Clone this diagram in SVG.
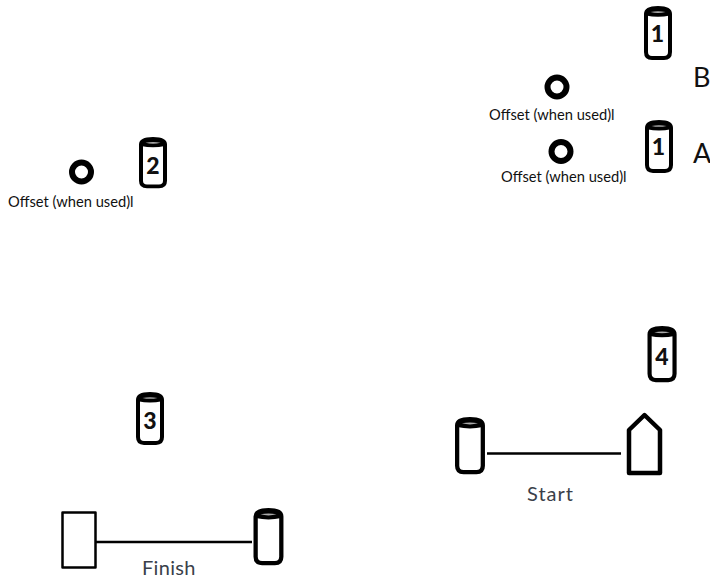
<svg xmlns="http://www.w3.org/2000/svg" xmlns:xlink="http://www.w3.org/1999/xlink" width="710" height="579" viewBox="0 0 710 579">
<style>
text{font-family:Lato,"Liberation Sans",sans-serif;fill:#111}
.o{font-size:14.7px}
.big{font-size:27px}
.lab{font-size:20px;letter-spacing:1px;fill:#3a3f4a}
.fin{letter-spacing:.3px}
.num{font-size:23px;font-weight:900;text-anchor:middle}
.ring{fill:#fff;stroke:#000;stroke-width:6}
.line{stroke:#000;stroke-width:2.5;fill:none}
.shape{fill:#fff;stroke:#000;stroke-linejoin:round}
</style>
<defs>
<g id="buoy">
<path d="M2 8Q2 2 14 2Q26 2 26 8V46Q26 52 20 52H8Q2 52 2 46Z" fill="#fff" stroke="#000" stroke-width="4"/>
<path d="M2 9.500Q14 12 26 9.500V5Q14 1 2 5Z" fill="#000"/>
<path d="M6.500 6Q14 4.500 21.500 6Q14 8 6.500 6Z" fill="#aaa"/>
</g>
</defs>
<g id="connectors">
<path class="line" d="M487 453.500H621"/>
<path class="line" d="M96 542H252"/>
</g>
<g id="mark-1b"><use href="#buoy" transform="translate(644 6)"/><text class="num" x="657.500" y="42">1</text></g>
<g id="mark-1a"><use href="#buoy" transform="translate(645 120) scale(1 .98)"/><text class="num" x="658.500" y="155">1</text></g>
<g id="mark-2"><use href="#buoy" transform="translate(139 137) scale(1 .95)"/><text class="num" x="153" y="174">2</text></g>
<g id="mark-3"><use href="#buoy" transform="translate(136 392) scale(1 .98)"/><text class="num" x="150" y="429">3</text></g>
<g id="mark-4"><use href="#buoy" transform="translate(647.500 326) scale(1.04 1.04)"/><text class="num" x="662" y="365">4</text></g>
<g id="start-pin"><use href="#buoy" transform="translate(455 417) scale(1.07 1.06)"/></g>
<g id="finish-pin"><use href="#buoy" transform="translate(253.500 508) scale(1.07 1.06)"/></g>
<g id="start-boat"><path class="shape" stroke-width="4.500" d="M629 473V430L644.500 415L660 430V473Z"/></g>
<g id="finish-boat"><rect class="shape" stroke-width="2.500" x="62.500" y="512.500" width="33" height="55"/></g>
<g id="offset-b"><circle class="ring" cx="557" cy="87" r="9.500"/><text class="o" x="489" y="120">Offset (when used)l</text></g>
<g id="offset-a"><circle class="ring" cx="561" cy="151.500" r="9.500"/><text class="o" x="501" y="182">Offset (when used)l</text></g>
<g id="offset-2"><circle class="ring" cx="81.500" cy="172" r="9.500"/><text class="o" x="8" y="207">Offset (when used)l</text></g>
<text class="big" x="693" y="87">B</text>
<text class="big" x="693" y="163">A</text>
<text class="lab" x="527" y="501">Start</text>
<text class="lab fin" x="142" y="575">Finish</text>
</svg>
